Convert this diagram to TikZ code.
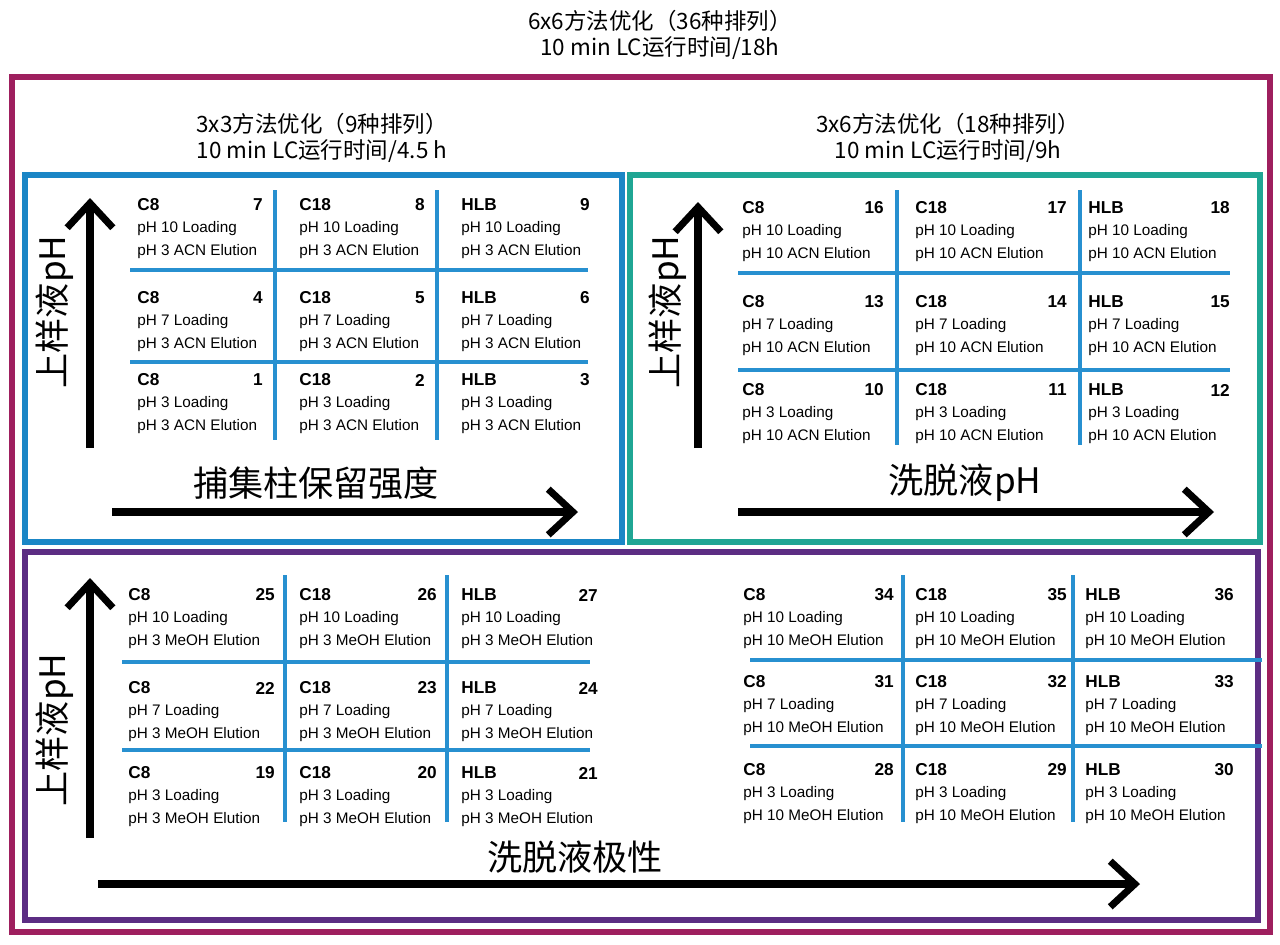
\documentclass[tikz,border=0pt]{standalone}
\usepackage{fontspec}
\setmainfont{Liberation Sans}
\newfontfamily\cjk{Noto Sans CJK SC}
\usetikzlibrary{arrows.meta}
\definecolor{outerc}{HTML}{9E1F5E}
\definecolor{bluec}{HTML}{1A86C6}
\definecolor{tealc}{HTML}{1FA694}
\definecolor{purpc}{HTML}{5C2D83}
\definecolor{gridc}{HTML}{2790D0}
\tikzset{
  frame/.style={line width=3.5pt},
  gridline/.style={gridc,line width=2pt},
  axis/.style={line width=5pt,-{Straight Barb[length=14pt,width=26pt,line width=4pt]}},
  axislabel/.style={font=\cjk\fontsize{20}{22}\selectfont},
  boxtitle/.style={font=\cjk\fontsize{12.8}{15}\selectfont,align=center},
  cname/.style={anchor=west,inner sep=0pt,font=\bfseries\fontsize{9.8}{11}\selectfont},
  cnum/.style={anchor=east,inner sep=0pt,font=\bfseries\fontsize{9.8}{11}\selectfont},
  ctext/.style={anchor=west,inner sep=0pt,font=\fontsize{8.7}{10}\selectfont}
}
% eine Zelle: x, y, rechter Rand, Name, Nummer, Zeile 1, Zeile 2
\newcommand{\cellnode}[7]{
  \node[cname] (name#5) at (#1,#2) {#4};
  \node[cnum] (num#5) at (#3,#2) {#5};
  \node[ctext] (load#5) at (#1,#2+24) {#6};
  \node[ctext] (elu#5) at (#1,#2+47) {#7};
}
\begin{document}
\begin{tikzpicture}[x=0.02cm,y=-0.02cm]
  \useasboundingbox (0,0) rectangle (1280,944);
  % Titel
  \node[boxtitle] (title) at (660,35) {6x6方法优化（36种排列）\\10 min LC运行时间/18h};
  % Rahmen
  \draw[frame,outerc] (12,77) rectangle (1270,932);
  \draw[frame,bluec] (25,175) rectangle (622,542);
  \draw[frame,tealc] (630,175) rectangle (1260,542);
  \draw[frame,purpc] (25,552) rectangle (1258,920);
  \node[boxtitle] (t1) at (322,138) {3x3方法优化（9种排列）\\10 min LC运行时间/4.5 h};
  \node[boxtitle] (t2) at (948,138) {3x6方法优化（18种排列）\\10 min LC运行时间/9h};
  % Achsen
  \draw[axis] (90,448) -- (90,198);
  \node[axislabel,rotate=90] (ylab1) at (55,312) {上样液pH};
  \draw[axis] (112,512) -- (578,512);
  \node[axislabel] (xlab1) at (316,483) {捕集柱保留强度};
  \draw[axis] (698,448) -- (698,202);
  \node[axislabel,rotate=90] (ylab2) at (668,312) {上样液pH};
  \draw[axis] (738,512) -- (1214,512);
  \node[axislabel] (xlab2) at (965,483) {洗脱液pH};
  \draw[axis] (90,838) -- (90,578);
  \node[axislabel,rotate=90] (ylab3) at (55,730) {上样液pH};
  \draw[axis] (98,884) -- (1140,884);
  \node[axislabel] (xlab3) at (575,857) {洗脱液极性};
  % Gitter
  \foreach \a in {275,437} \draw[gridline] (\a,190) -- (\a,440);
  \foreach \b in {270,362} \draw[gridline] (130,\b) -- (588,\b);
  \foreach \a in {897,1080} \draw[gridline] (\a,190) -- (\a,445);
  \foreach \b in {273,370} \draw[gridline] (738,\b) -- (1230,\b);
  \foreach \a in {285,447} \draw[gridline] (\a,575) -- (\a,822);
  \foreach \b in {662,750} \draw[gridline] (122,\b) -- (590,\b);
  \foreach \a in {903,1073} \draw[gridline] (\a,575) -- (\a,822);
  \foreach \b in {660,746} \draw[gridline] (750,\b) -- (1262,\b);
  % Zellen
  \foreach \y/\ph/\n in {205/10/6,298/7/3,380/3/0}
    \foreach \x/\r/\nm/\i in {137/263/C8/1,299/425/C18/2,461/590/HLB/3}{
      \pgfmathtruncatemacro\k{\n+\i}
      \cellnode{\x}{\y}{\r}{\nm}{\k}{pH \ph\ Loading}{pH 3 ACN Elution}}
  \foreach \y/\ph/\n in {208/10/15,302/7/12,390/3/9}
    \foreach \x/\r/\nm/\i in {742/884/C8/1,915/1067/C18/2,1088/1230/HLB/3}{
      \pgfmathtruncatemacro\k{\n+\i}
      \cellnode{\x}{\y}{\r}{\nm}{\k}{pH \ph\ Loading}{pH 10 ACN Elution}}
  \foreach \y/\ph/\n in {595/10/24,688/7/21,773/3/18}
    \foreach \x/\r/\nm/\i in {128/275/C8/1,299/437/C18/2,461/598/HLB/3}{
      \pgfmathtruncatemacro\k{\n+\i}
      \cellnode{\x}{\y}{\r}{\nm}{\k}{pH \ph\ Loading}{pH 3 MeOH Elution}}
  \foreach \y/\ph/\n in {595/10/33,682/7/30,770/3/27}
    \foreach \x/\r/\nm/\i in {743/894/C8/1,915/1067/C18/2,1085/1234/HLB/3}{
      \pgfmathtruncatemacro\k{\n+\i}
      \cellnode{\x}{\y}{\r}{\nm}{\k}{pH \ph\ Loading}{pH 10 MeOH Elution}}
\end{tikzpicture}
\end{document}
